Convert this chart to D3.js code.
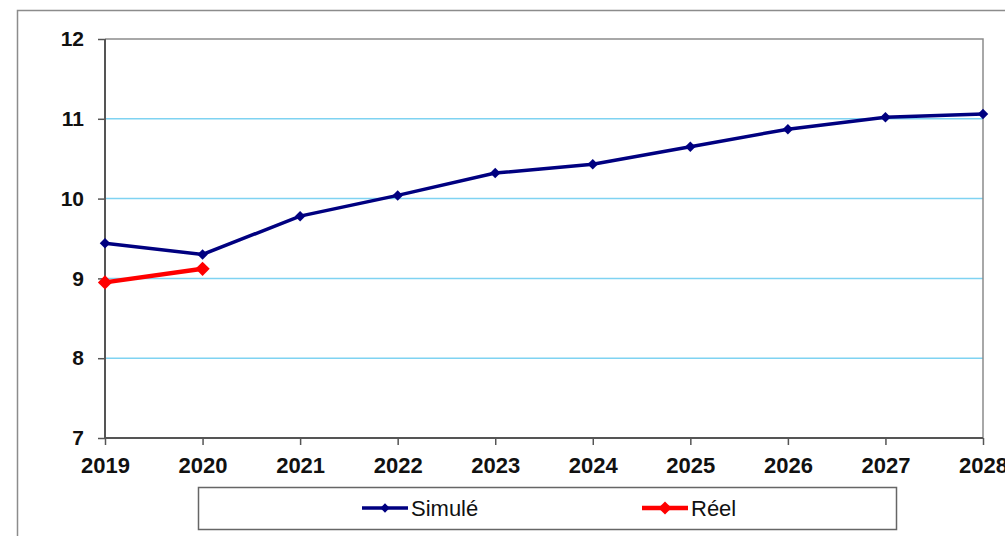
<!DOCTYPE html>
<html>
<head>
<meta charset="utf-8">
<script src="https://cdn.jsdelivr.net/npm/d3@7"></script>
<style>
  body { margin: 0; background: #fff; }
  text { font-family: "Liberation Sans", Arial, sans-serif; }
</style>
</head>
<body>
<script>
const years = [2019, 2020, 2021, 2022, 2023, 2024, 2025, 2026, 2027, 2028];
const simule = [9.44, 9.30, 9.78, 10.04, 10.32, 10.43, 10.65, 10.87, 11.02, 11.06];
const reel = [8.95, 9.12];
const yTicks = [7, 8, 9, 10, 11, 12];
const seriesNames = ["Simulé", "Réel"];

const baseWidth = 1005,
  baseHeight = 536;
const margin = { top: 39, right: 22, bottom: 98, left: 105 };
const width = baseWidth - margin.left - margin.right;
const height = baseHeight - margin.top - margin.bottom;

const svg = d3
  .select("body")
  .append("svg")
  .attr("width", baseWidth)
  .attr("height", baseHeight);

// outer frame (extends beyond the view)
svg
  .append("rect")
  .attr("x", 17.5)
  .attr("y", 10.5)
  .attr("width", 1100)
  .attr("height", 600)
  .attr("fill", "none")
  .attr("stroke", "#8c8c8c")
  .attr("stroke-width", 1.5);

const chart = svg
  .append("g")
  .attr("transform", "translate(" + margin.left + "," + margin.top + ")");

const x = d3.scaleLinear().domain([2019, 2028]).range([0, width]);
const y = d3.scaleLinear().domain([7, 12]).range([height, 0]);

// gridlines
chart
  .selectAll(".grid")
  .data(yTicks.filter((d) => d > 7 && d < 12))
  .enter()
  .append("line")
  .attr("x1", 0)
  .attr("x2", width)
  .attr("y1", (d) => y(d))
  .attr("y2", (d) => y(d))
  .attr("stroke", "#7fd3f2")
  .attr("stroke-width", 1.5);

// plot border top/right
chart
  .append("path")
  .attr("d", `M0,0H${width}V${height}`)
  .attr("fill", "none")
  .attr("stroke", "#8c8c8c")
  .attr("stroke-width", 1.5);

const yAxis = d3
  .axisLeft(y)
  .tickValues(yTicks)
  .tickFormat(d3.format("d"))
  .tickSize(7)
  .tickPadding(14);
const xAxis = d3
  .axisBottom(x)
  .tickValues(years)
  .tickFormat(d3.format("d"))
  .tickSize(7)
  .tickPadding(9);

const ya = chart.append("g").call(yAxis);
const xa = chart
  .append("g")
  .attr("transform", "translate(0," + height + ")")
  .call(xAxis);

[ya, xa].forEach((a) => {
  a.attr("font-size", null).attr("font-family", null);
  a.select(".domain").attr("stroke", "#555").attr("stroke-width", 2);
  a.selectAll(".tick line").attr("stroke", "#555").attr("stroke-width", 1.5);
  a.selectAll("text").attr("fill", "#111").style("font-weight", "bold");
});
ya.selectAll("text").style("font-size", "21px");
xa.selectAll("text").style("font-size", "22px").attr("dy", "0.85em");
ya.select(".domain").attr("d", `M0,${height}V0`);
xa.select(".domain").attr("d", `M0,0H${width}`);

const line = d3
  .line()
  .x((d, i) => x(years[i]))
  .y((d) => y(d));

const diamond = d3.symbol().type(d3.symbolDiamond2);

// Simulé
chart
  .append("path")
  .datum(simule)
  .attr("d", line)
  .attr("fill", "none")
  .attr("stroke", "#000080")
  .attr("stroke-width", 3.5);
chart
  .selectAll(".ms")
  .data(simule)
  .enter()
  .append("path")
  .attr("transform", (d, i) => `translate(${x(years[i])},${y(d)})`)
  .attr("d", diamond.size(70))
  .attr("fill", "#000080");

// Réel
chart
  .append("path")
  .datum(reel)
  .attr("d", line)
  .attr("fill", "none")
  .attr("stroke", "#ff0000")
  .attr("stroke-width", 4.5);
chart
  .selectAll(".mr")
  .data(reel)
  .enter()
  .append("path")
  .attr("transform", (d, i) => `translate(${x(years[i])},${y(d)})`)
  .attr("d", diamond.size(130))
  .attr("fill", "#ff0000");

// legend
svg
  .append("rect")
  .attr("x", 198.5)
  .attr("y", 487.5)
  .attr("width", 698)
  .attr("height", 42)
  .attr("fill", "#fff")
  .attr("stroke", "#666")
  .attr("stroke-width", 1.5);

const legendItems = [
  { name: seriesNames[0], color: "#000080", x: 362, w: 3.5, s: 55 },
  { name: seriesNames[1], color: "#ff0000", x: 642, w: 4.5, s: 110 },
];
const lg = svg
  .selectAll(".legend")
  .data(legendItems)
  .enter()
  .append("g")
  .attr("transform", (d) => `translate(${d.x},508)`);
lg.append("line")
  .attr("x1", 0)
  .attr("x2", 46)
  .attr("stroke", (d) => d.color)
  .attr("stroke-width", (d) => d.w);
lg.append("path")
  .attr("transform", "translate(23,0)")
  .attr("d", (d) => diamond.size(d.s)())
  .attr("fill", (d) => d.color);
lg.append("text")
  .attr("x", 49)
  .attr("dy", "0.36em")
  .style("font-size", "22px")
  .attr("fill", "#111")
  .text((d) => d.name);
</script>
</body>
</html>
